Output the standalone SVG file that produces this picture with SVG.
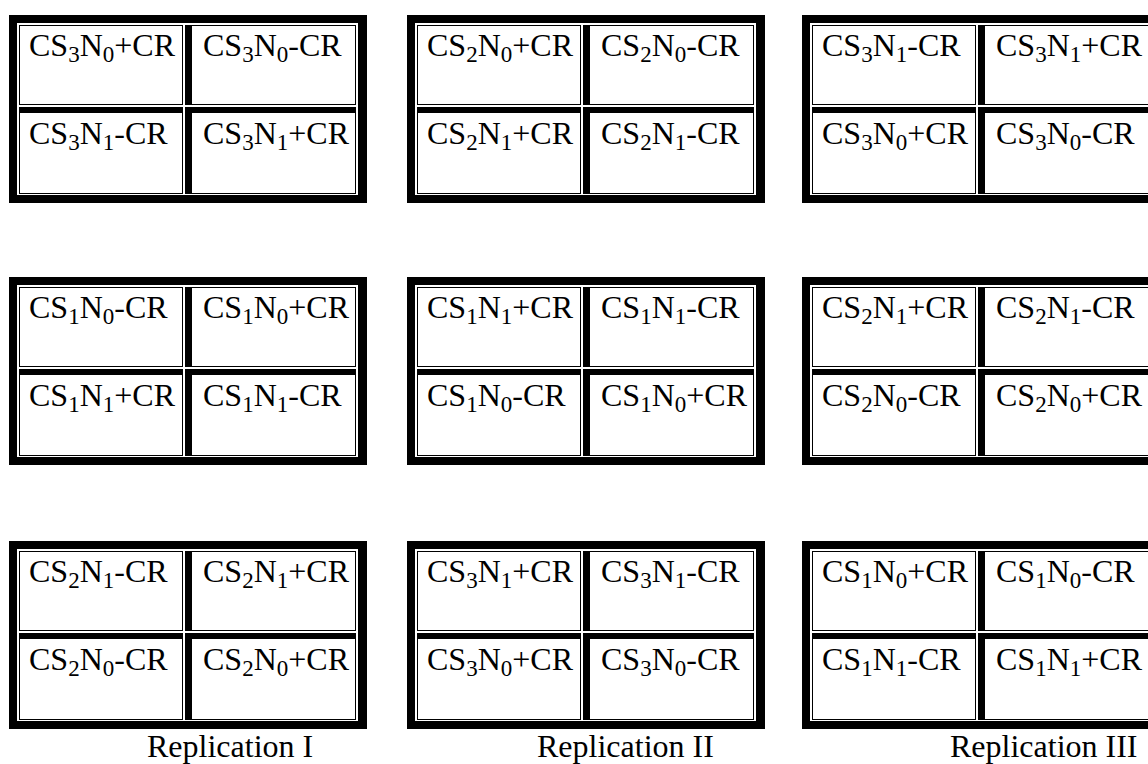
<svg xmlns="http://www.w3.org/2000/svg" width="1148" height="764" viewBox="0 0 1148 764">
<style>
.k{fill:#000}
.w{fill:#fff}
text{font-family:"Liberation Serif","Times New Roman",serif;font-size:32px;fill:#000}
.s{font-size:23px}
</style>
<defs>
<g id="frame">
<rect class="k" x="0" y="0" width="358" height="188"/>
<rect class="w" x="8" y="8" width="341" height="172"/>
<rect class="k" x="10" y="10" width="164" height="80"/>
<rect class="w" x="11" y="11" width="162" height="78"/>
<rect class="k" x="176" y="10" width="171" height="80"/>
<rect class="w" x="183" y="11" width="163" height="78"/>
<rect class="k" x="10" y="92" width="164" height="87"/>
<rect class="w" x="11" y="98" width="162" height="80"/>
<rect class="k" x="176" y="92" width="171" height="87"/>
<rect class="w" x="183" y="98" width="163" height="80"/>
</g>
</defs>
<rect width="1148" height="764" fill="#fff"/>
<g id="connectors"/>

<g id="r1b1" transform="translate(9,15)">
<use href="#frame"/>
<g id="r1b1a"><text x="20" y="41">CS<tspan class="s" dy="6">3</tspan><tspan dy="-6">N</tspan><tspan class="s" dy="6">0</tspan><tspan dy="-6">+CR</tspan></text></g>
<g id="r1b1b"><text x="194" y="41">CS<tspan class="s" dy="6">3</tspan><tspan dy="-6">N</tspan><tspan class="s" dy="6">0</tspan><tspan dy="-6">-CR</tspan></text></g>
<g id="r1b1c"><text x="20" y="129">CS<tspan class="s" dy="6">3</tspan><tspan dy="-6">N</tspan><tspan class="s" dy="6">1</tspan><tspan dy="-6">-CR</tspan></text></g>
<g id="r1b1d"><text x="194" y="129">CS<tspan class="s" dy="6">3</tspan><tspan dy="-6">N</tspan><tspan class="s" dy="6">1</tspan><tspan dy="-6">+CR</tspan></text></g>
</g>

<g id="r1b2" transform="translate(407,15)">
<use href="#frame"/>
<g id="r1b2a"><text x="20" y="41">CS<tspan class="s" dy="6">2</tspan><tspan dy="-6">N</tspan><tspan class="s" dy="6">0</tspan><tspan dy="-6">+CR</tspan></text></g>
<g id="r1b2b"><text x="194" y="41">CS<tspan class="s" dy="6">2</tspan><tspan dy="-6">N</tspan><tspan class="s" dy="6">0</tspan><tspan dy="-6">-CR</tspan></text></g>
<g id="r1b2c"><text x="20" y="129">CS<tspan class="s" dy="6">2</tspan><tspan dy="-6">N</tspan><tspan class="s" dy="6">1</tspan><tspan dy="-6">+CR</tspan></text></g>
<g id="r1b2d"><text x="194" y="129">CS<tspan class="s" dy="6">2</tspan><tspan dy="-6">N</tspan><tspan class="s" dy="6">1</tspan><tspan dy="-6">-CR</tspan></text></g>
</g>

<g id="r1b3" transform="translate(802,15)">
<use href="#frame"/>
<g id="r1b3a"><text x="20" y="41">CS<tspan class="s" dy="6">3</tspan><tspan dy="-6">N</tspan><tspan class="s" dy="6">1</tspan><tspan dy="-6">-CR</tspan></text></g>
<g id="r1b3b"><text x="194" y="41">CS<tspan class="s" dy="6">3</tspan><tspan dy="-6">N</tspan><tspan class="s" dy="6">1</tspan><tspan dy="-6">+CR</tspan></text></g>
<g id="r1b3c"><text x="20" y="129">CS<tspan class="s" dy="6">3</tspan><tspan dy="-6">N</tspan><tspan class="s" dy="6">0</tspan><tspan dy="-6">+CR</tspan></text></g>
<g id="r1b3d"><text x="194" y="129">CS<tspan class="s" dy="6">3</tspan><tspan dy="-6">N</tspan><tspan class="s" dy="6">0</tspan><tspan dy="-6">-CR</tspan></text></g>
</g>

<g id="r2b1" transform="translate(9,277)">
<use href="#frame"/>
<g id="r2b1a"><text x="20" y="41">CS<tspan class="s" dy="6">1</tspan><tspan dy="-6">N</tspan><tspan class="s" dy="6">0</tspan><tspan dy="-6">-CR</tspan></text></g>
<g id="r2b1b"><text x="194" y="41">CS<tspan class="s" dy="6">1</tspan><tspan dy="-6">N</tspan><tspan class="s" dy="6">0</tspan><tspan dy="-6">+CR</tspan></text></g>
<g id="r2b1c"><text x="20" y="129">CS<tspan class="s" dy="6">1</tspan><tspan dy="-6">N</tspan><tspan class="s" dy="6">1</tspan><tspan dy="-6">+CR</tspan></text></g>
<g id="r2b1d"><text x="194" y="129">CS<tspan class="s" dy="6">1</tspan><tspan dy="-6">N</tspan><tspan class="s" dy="6">1</tspan><tspan dy="-6">-CR</tspan></text></g>
</g>

<g id="r2b2" transform="translate(407,277)">
<use href="#frame"/>
<g id="r2b2a"><text x="20" y="41">CS<tspan class="s" dy="6">1</tspan><tspan dy="-6">N</tspan><tspan class="s" dy="6">1</tspan><tspan dy="-6">+CR</tspan></text></g>
<g id="r2b2b"><text x="194" y="41">CS<tspan class="s" dy="6">1</tspan><tspan dy="-6">N</tspan><tspan class="s" dy="6">1</tspan><tspan dy="-6">-CR</tspan></text></g>
<g id="r2b2c"><text x="20" y="129">CS<tspan class="s" dy="6">1</tspan><tspan dy="-6">N</tspan><tspan class="s" dy="6">0</tspan><tspan dy="-6">-CR</tspan></text></g>
<g id="r2b2d"><text x="194" y="129">CS<tspan class="s" dy="6">1</tspan><tspan dy="-6">N</tspan><tspan class="s" dy="6">0</tspan><tspan dy="-6">+CR</tspan></text></g>
</g>

<g id="r2b3" transform="translate(802,277)">
<use href="#frame"/>
<g id="r2b3a"><text x="20" y="41">CS<tspan class="s" dy="6">2</tspan><tspan dy="-6">N</tspan><tspan class="s" dy="6">1</tspan><tspan dy="-6">+CR</tspan></text></g>
<g id="r2b3b"><text x="194" y="41">CS<tspan class="s" dy="6">2</tspan><tspan dy="-6">N</tspan><tspan class="s" dy="6">1</tspan><tspan dy="-6">-CR</tspan></text></g>
<g id="r2b3c"><text x="20" y="129">CS<tspan class="s" dy="6">2</tspan><tspan dy="-6">N</tspan><tspan class="s" dy="6">0</tspan><tspan dy="-6">-CR</tspan></text></g>
<g id="r2b3d"><text x="194" y="129">CS<tspan class="s" dy="6">2</tspan><tspan dy="-6">N</tspan><tspan class="s" dy="6">0</tspan><tspan dy="-6">+CR</tspan></text></g>
</g>

<g id="r3b1" transform="translate(9,541)">
<use href="#frame"/>
<g id="r3b1a"><text x="20" y="41">CS<tspan class="s" dy="6">2</tspan><tspan dy="-6">N</tspan><tspan class="s" dy="6">1</tspan><tspan dy="-6">-CR</tspan></text></g>
<g id="r3b1b"><text x="194" y="41">CS<tspan class="s" dy="6">2</tspan><tspan dy="-6">N</tspan><tspan class="s" dy="6">1</tspan><tspan dy="-6">+CR</tspan></text></g>
<g id="r3b1c"><text x="20" y="129">CS<tspan class="s" dy="6">2</tspan><tspan dy="-6">N</tspan><tspan class="s" dy="6">0</tspan><tspan dy="-6">-CR</tspan></text></g>
<g id="r3b1d"><text x="194" y="129">CS<tspan class="s" dy="6">2</tspan><tspan dy="-6">N</tspan><tspan class="s" dy="6">0</tspan><tspan dy="-6">+CR</tspan></text></g>
</g>

<g id="r3b2" transform="translate(407,541)">
<use href="#frame"/>
<g id="r3b2a"><text x="20" y="41">CS<tspan class="s" dy="6">3</tspan><tspan dy="-6">N</tspan><tspan class="s" dy="6">1</tspan><tspan dy="-6">+CR</tspan></text></g>
<g id="r3b2b"><text x="194" y="41">CS<tspan class="s" dy="6">3</tspan><tspan dy="-6">N</tspan><tspan class="s" dy="6">1</tspan><tspan dy="-6">-CR</tspan></text></g>
<g id="r3b2c"><text x="20" y="129">CS<tspan class="s" dy="6">3</tspan><tspan dy="-6">N</tspan><tspan class="s" dy="6">0</tspan><tspan dy="-6">+CR</tspan></text></g>
<g id="r3b2d"><text x="194" y="129">CS<tspan class="s" dy="6">3</tspan><tspan dy="-6">N</tspan><tspan class="s" dy="6">0</tspan><tspan dy="-6">-CR</tspan></text></g>
</g>

<g id="r3b3" transform="translate(802,541)">
<use href="#frame"/>
<g id="r3b3a"><text x="20" y="41">CS<tspan class="s" dy="6">1</tspan><tspan dy="-6">N</tspan><tspan class="s" dy="6">0</tspan><tspan dy="-6">+CR</tspan></text></g>
<g id="r3b3b"><text x="194" y="41">CS<tspan class="s" dy="6">1</tspan><tspan dy="-6">N</tspan><tspan class="s" dy="6">0</tspan><tspan dy="-6">-CR</tspan></text></g>
<g id="r3b3c"><text x="20" y="129">CS<tspan class="s" dy="6">1</tspan><tspan dy="-6">N</tspan><tspan class="s" dy="6">1</tspan><tspan dy="-6">-CR</tspan></text></g>
<g id="r3b3d"><text x="194" y="129">CS<tspan class="s" dy="6">1</tspan><tspan dy="-6">N</tspan><tspan class="s" dy="6">1</tspan><tspan dy="-6">+CR</tspan></text></g>
</g>

<g id="labels">
<text x="147" y="757">Replication I</text>
<text x="537" y="757">Replication II</text>
<text x="950" y="757">Replication III</text>
</g>
</svg>
